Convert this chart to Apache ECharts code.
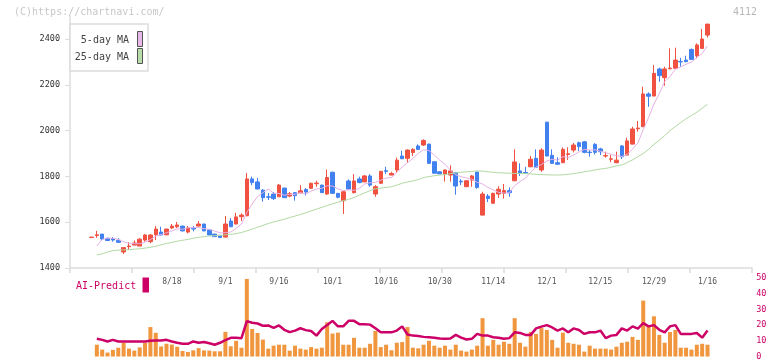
<!DOCTYPE html>
<html><head><meta charset="utf-8">
<script src="https://cdn.jsdelivr.net/npm/echarts@6/dist/echarts.min.js"></script>
<style>html,body{margin:0;padding:0;background:#fff}#c{width:772px;height:361px}</style>
</head><body><div id="c"></div>
<script>
const dates = ['7/25','7/28','7/29','7/30','7/31','8/1','8/4','8/5','8/6','8/7','8/8','8/12','8/13','8/14','8/15',
'8/18','8/19','8/20','8/21','8/22','8/25','8/26','8/27','8/28','8/29',
'9/1','9/2','9/3','9/4','9/5','9/8','9/9','9/10','9/11','9/12',
'9/16','9/17','9/18','9/19','9/22','9/24','9/25','9/26','9/29','9/30',
'10/1','10/2','10/3','10/6','10/7','10/8','10/9','10/10','10/14','10/15',
'10/16','10/17','10/20','10/21','10/22','10/23','10/24','10/27','10/28','10/29',
'10/30','10/31','11/4','11/5','11/6','11/7','11/10','11/11','11/12','11/13',
'11/14','11/17','11/18','11/19','11/20','11/21','11/25','11/26','11/27','11/28',
'12/1','12/2','12/3','12/4','12/5','12/8','12/9','12/10','12/11','12/12',
'12/15','12/16','12/17','12/18','12/19','12/22','12/23','12/24','12/25','12/26',
'12/29','12/30','1/5','1/6','1/7','1/8','1/9','1/13','1/14','1/15','1/16'];

const opens = [1533,1542,1548,1530,1528,1521,1470,1493,1500,1496,
1522,1515,1545,1557,1545,1575,1580,1583,1557,1574,
1583,1592,1566,1548,1543,1535,1605,1592,1624,1628,
1789,1776,1740,1711,1723,1711,1749,1714,1729,1728,
1743,1748,1768,1762,1723,1818,1726,1694,1780,1729,
1789,1776,1802,1723,1770,1825,1806,1828,1889,1879,
1904,1933,1937,1941,1864,1820,1810,1806,1816,1779,
1755,1784,1819,1631,1714,1683,1723,1726,1738,1781,
1824,1817,1842,1879,1828,2037,1892,1860,1860,1896,
1915,1947,1951,1906,1940,1920,1889,1875,1860,1933,
1893,1941,2008,2017,2160,2151,2269,2231,2270,2272,
2302,2308,2354,2327,2359,2417];
const closes = [1535,1545,1527,1520,1522,1512,1489,1496,1509,1526,
1544,1544,1570,1544,1570,1583,1588,1562,1575,1570,
1592,1562,1544,1537,1533,1592,1580,1623,1631,1789,
1773,1745,1707,1709,1703,1762,1707,1724,1716,1737,
1732,1770,1771,1729,1795,1726,1709,1733,1745,1780,
1773,1802,1762,1755,1822,1822,1813,1871,1877,1915,
1918,1918,1957,1857,1814,1811,1828,1824,1758,1776,
1781,1802,1752,1723,1703,1726,1744,1738,1729,1863,
1814,1814,1875,1840,1915,1889,1857,1853,1918,1899,
1937,1930,1905,1904,1905,1908,1891,1877,1871,1886,
1955,2007,2011,2160,2150,2250,2240,2269,2273,2308,
2300,2301,2311,2374,2400,2465];
const lows = [1533,1532,1519,1518,1515,1511,1461,1479,1499,1495,
1515,1508,1522,1543,1543,1570,1575,1560,1551,1560,
1582,1561,1543,1536,1532,1534,1579,1591,1605,1627,
1762,1744,1690,1697,1697,1710,1706,1709,1694,1727,
1716,1746,1755,1728,1720,1724,1704,1636,1740,1726,
1770,1775,1755,1711,1768,1810,1805,1816,1876,1860,
1889,1915,1933,1856,1813,1810,1777,1777,1720,1762,
1754,1755,1746,1630,1688,1680,1706,1703,1711,1779,
1802,1813,1840,1839,1820,1888,1856,1852,1858,1872,
1905,1911,1901,1886,1896,1893,1882,1862,1857,1876,
1892,1940,1995,2016,2104,2150,2213,2196,2268,2270,
2279,2298,2310,2316,2358,2406];
const highs = [1535,1562,1548,1531,1535,1530,1490,1513,1520,1530,
1548,1548,1583,1580,1572,1592,1601,1585,1583,1583,
1605,1593,1567,1549,1544,1627,1618,1641,1639,1815,
1799,1793,1745,1727,1732,1767,1750,1732,1732,1762,
1749,1772,1781,1764,1830,1821,1727,1735,1787,1810,
1799,1806,1810,1762,1824,1842,1820,1882,1912,1918,
1923,1940,1962,1943,1865,1822,1829,1848,1818,1789,
1783,1806,1820,1733,1723,1729,1757,1767,1752,1918,
1857,1842,1889,1918,1923,2038,1918,1883,1927,1927,
1946,1952,1955,1915,1945,1925,1908,1893,1908,1937,
1969,2017,2042,2192,2167,2286,2275,2279,2359,2362,
2318,2327,2359,2381,2444,2466];

const ma5 = [null,1496,1525,1530,1530,1525,1514,1508,1506,1506,1513,
1524,1539,1546,1554,1562,1571,1569,1576,1576,1577,
1572,1569,1561,1554,1554,1557,1573,1592,1643,1679,
1712,1729,1745,1727,1725,1718,1721,1722,1729,1723,
1736,1745,1748,1759,1758,1746,1738,1742,1739,1748,
1767,1772,1774,1783,1793,1795,1817,1841,1860,1879,
1900,1917,1913,1893,1871,1853,1827,1807,1799,1793,
1788,1774,1767,1752,1741,1730,1727,1728,1760,1778,
1792,1819,1841,1852,1867,1875,1871,1886,1883,1893,
1907,1918,1915,1916,1910,1903,1897,1890,1887,1896,
1919,1946,2004,2057,2116,2162,2214,2236,2268,2278,
2290,2299,2319,2337,2370];
const ma25 = [null,1457,1462,1470,1476,1478,1479,1480,1482,1484,1487,
1490,1495,1501,1507,1512,1517,1521,1525,1530,1534,
1537,1540,1541,1542,1545,1547,1550,1555,1562,1570,
1578,1586,1594,1601,1607,1613,1620,1627,1634,1641,
1649,1657,1665,1673,1680,1687,1694,1700,1708,1718,
1728,1738,1746,1749,1752,1755,1762,1770,1776,1780,
1786,1795,1799,1803,1806,1808,1812,1815,1818,1820,
1822,1824,1823,1820,1818,1816,1815,1814,1813,1813,
1812,1811,1809,1808,1807,1806,1806,1807,1809,1812,
1816,1820,1824,1828,1832,1835,1840,1846,1850,1860,
1872,1886,1900,1918,1940,1958,1978,2000,2018,2035,
2052,2066,2080,2098,2115];

const volume = [null,7.5,4.4,2.5,4.2,5.6,8.7,5,3.75,5.8,
8.8,18.75,15.1,6.4,8.1,7.6,6.2,3.5,2.9,3.9,
5.3,3.9,3.75,3.3,3.3,15.7,6.5,10,5.6,49.4,
17.5,15,10.8,5,6.9,7.5,7.5,3.75,6.9,5,
4.4,6,5,5.6,21.8,14.6,15.2,7.5,7.5,11.9,
5.6,5.6,8.1,16.25,6,7.5,4,8.75,9.2,18.75,
5.6,5.2,7.5,10,6.9,5.6,6.9,4.4,7.5,3.75,
3.1,4.4,6.9,24.4,6.9,10.6,7.5,9.4,8.1,24.4,
8.75,6.25,15.6,14.4,18.1,16.9,10.6,5.6,15.2,8.75,
8.1,7.5,3.1,6.9,5,5,5,4.4,6.25,8.75,
9.4,12.5,10.6,35.6,19.4,25.6,13.75,8.75,15.6,16.9,
5.6,5.6,4.4,7.5,8.1,7.5];
const aiPredict = [null,11.25,10.6,9.6,10.6,9.6,9.6,9.6,9.6,9.6,
9.6,10,10.2,10.2,10.6,9.6,8.75,8.1,8.1,9.6,
8.75,9.2,8.4,7.5,8.75,10.4,11.9,11.9,11.7,22.5,
21.5,21,19.6,19.8,18.2,19.8,17,15.5,16.5,18,
16.8,16.2,13.3,17.5,20,22.7,19.2,19.2,22.7,22.7,
20.6,20.6,20.3,18,15.4,15.4,15.4,16.5,19.2,14,
13.3,13,12.5,12.3,12,11.5,11.25,11.5,13.75,12,
10.8,11.25,14.4,13.3,13.3,12.3,12,11.25,11.7,15.4,
15,13.75,13.75,17.9,19,20,18.5,16.5,17.9,15.4,
17.9,16.9,14.4,15.4,15.4,16.5,11.7,13.3,13.75,17.9,
16.5,19.2,17.7,21.25,19.2,20,17,15.4,19.2,20,
14.4,14.4,14.4,15,12,16.5];

const priceTicks = [1400,1600,1800,2000,2200,2400];
const volTicks = [0,10,20,30,40,50];
const labelEvery = 10, labelOffset = 5, firstLabel = 15;

const candleData = dates.map((d,i)=>[opens[i],closes[i],lows[i],highs[i]]);

const FONT = '"DejaVu Sans Mono", "Liberation Mono", monospace';
const RED = '#f05141', BLUE = '#4181ef';
const PL = 88.8, PR = 61.8;

const chart = echarts.init(document.getElementById('c'), null, {renderer:'canvas'});
chart.setOption({
  animation:false,
  backgroundColor:'#fff',
  grid:[
    {left:PL,right:PR,top:16.1,bottom:93},
    {left:70,right:20,top:16.1,bottom:93},
    {left:PL,right:PR,top:278,bottom:3}
  ],
  xAxis:[
    {type:'category',gridIndex:0,data:dates,boundaryGap:true,
     axisLine:{show:false},axisTick:{show:false},splitLine:{show:false},
     axisLabel:{interval:(i)=> i >= firstLabel && i % labelEvery === labelOffset, color:'#555', fontSize:8, fontFamily:FONT, margin:10}},
    {type:'value',gridIndex:1,min:0,max:11,interval:1,
     axisLine:{show:true,lineStyle:{color:'#dcdcdc',width:1.5}},
     axisTick:{show:true,length:5,lineStyle:{color:'#dcdcdc',width:1.5}},
     axisLabel:{show:false},splitLine:{show:false}},
    {type:'category',gridIndex:2,data:dates,boundaryGap:true,show:false}
  ],
  yAxis:[
    {type:'value',gridIndex:0,min:1400,max:2500,show:false,splitLine:{show:false}},
    {type:'value',gridIndex:1,min:1400,max:2500,
     axisLine:{show:true,lineStyle:{color:'#dcdcdc',width:1.5}},
     axisTick:{show:true,length:5,customValues:priceTicks,lineStyle:{color:'#dcdcdc',width:1}},
     axisLabel:{customValues:priceTicks,formatter:(v)=>String(v),color:'#333',fontSize:8.5,fontFamily:FONT,margin:10},
     splitLine:{show:false}},
    {type:'value',gridIndex:2,min:0,max:50,position:'right',offset:40,
     axisLine:{show:false},axisTick:{show:false},splitLine:{show:false},
     axisLabel:{customValues:volTicks,formatter:(v)=>String(v),color:'#cc0066',fontSize:8.5,fontFamily:FONT,margin:6}}
  ],
  series:[
    {type:'candlestick',name:'price',xAxisIndex:0,yAxisIndex:0,data:candleData,barWidth:4,
     itemStyle:{color:RED,color0:BLUE,borderColor:RED,borderColor0:BLUE,borderWidth:1}},
    {type:'line',name:'5-day MA',xAxisIndex:0,yAxisIndex:0,data:ma5,symbol:'none',
     lineStyle:{color:'#e6b2e6',width:1},z:3},
    {type:'line',name:'25-day MA',xAxisIndex:0,yAxisIndex:0,data:ma25,symbol:'none',
     lineStyle:{color:'#b2daa2',width:1},z:3},
    {type:'bar',name:'volume',xAxisIndex:2,yAxisIndex:2,data:volume,barWidth:4,
     itemStyle:{color:'#f0963e'}},
    {type:'line',name:'AI-Predict',xAxisIndex:2,yAxisIndex:2,data:aiPredict,symbol:'none',
     lineStyle:{color:'#cc0066',width:2.5},z:4}
  ],
  graphic:[
    {type:'text',z:100,style:{text:'(C)https://chartnavi.com/',x:14,y:12,font:'10px '+FONT,fill:'#c8c8c8',textVerticalAlign:'middle'}},
    {type:'text',z:100,style:{text:'4112',x:757,y:12,font:'10px '+FONT,fill:'#b8b8b8',textAlign:'right',textVerticalAlign:'middle'}},
    {type:'rect',z:100,shape:{x:70,y:24,width:78,height:47},style:{fill:'#fff',stroke:'#dcdcdc',lineWidth:1.5}},
    {type:'text',z:101,style:{text:'5-day MA',x:129,y:40,font:'10px '+FONT,fill:'#444',textAlign:'right',textVerticalAlign:'middle'}},
    {type:'text',z:101,style:{text:'25-day MA',x:129,y:57,font:'10px '+FONT,fill:'#444',textAlign:'right',textVerticalAlign:'middle'}},
    {type:'rect',z:101,shape:{x:137.5,y:31.5,width:5,height:15},style:{fill:'#e8b8e8',stroke:'#555',lineWidth:1}},
    {type:'rect',z:101,shape:{x:137.5,y:48.5,width:5,height:15},style:{fill:'#b8dcaa',stroke:'#555',lineWidth:1}},
    {type:'text',z:100,style:{text:'AI-Predict',x:76,y:286,font:'10px '+FONT,fill:'#cc0066',textVerticalAlign:'middle'}},
    {type:'rect',z:100,shape:{x:142.5,y:277.5,width:6.5,height:15},style:{fill:'#cc0066'}}
  ]
});
</script>
</body></html>
